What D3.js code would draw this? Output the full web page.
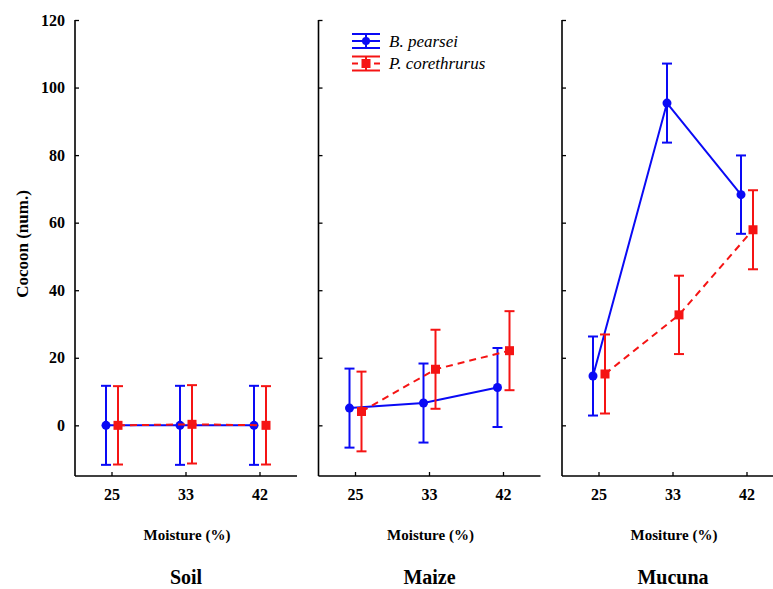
<!DOCTYPE html>
<html><head><meta charset="utf-8">
<script src="https://cdn.jsdelivr.net/npm/d3@7"></script>
<style>body{margin:0;background:#fff}svg{display:block}
svg text{font-family:"Liberation Serif","Times New Roman",Times,serif !important;}</style>
</head><body>
<svg id="c" width="773" height="589"></svg>
<script>
const panels = ["Soil", "Maize", "Mucuna"];
const xLabels = ["Moisture (%)", "Moisture (%)", "Mositure (%)"];
const moisture = ["25", "33", "42"];
const yTicks = [0, 20, 40, 60, 80, 100, 120];
const seriesNames = ["B. pearsei", "P. corethrurus"];
const pearseiMean = [[0, 0, 0], [5.1, 6.6, 11.2], [14.6, 95.4, 68.3]];
const pearseiErr = [[11.7, 11.7, 11.7], [11.7, 11.7, 11.7], [11.7, 11.7, 11.6]];
const corethMean = [[0, 0.3, 0], [4.1, 16.6, 22.1], [15.2, 32.7, 57.9]];
const corethErr = [[11.6, 11.6, 11.6], [11.8, 11.7, 11.7], [11.7, 11.6, 11.7]];

const blue = "#0a0af5", red = "#f51414";
const svg = d3.select("#c");
const y = d3.scaleLinear().domain([-15, 120]).range([476, 20]);
const pw = 222;

svg.append("text").attr("transform", "translate(22,244) rotate(-90)")
  .attr("text-anchor", "middle").attr("dominant-baseline", "central")
  .attr("font-weight", "bold").attr("font-size", 17)
  .text("Cocoon (num.)");

const series = [
  {mean: pearseiMean, err: pearseiErr, color: blue, off: -6, dash: null, shape: "circle"},
  {mean: corethMean, err: corethErr, color: red, off: 6, dash: "7,5", shape: "square"}
];

panels.forEach((name, pi) => {
  const left = 75 + pi * 243.5;
  const x = d3.scaleBand().domain(moisture).range([left, left + pw]).padding(0);
  const cx = d => x(d) + x.bandwidth() / 2;
  const g = svg.append("g");
  const ya = g.append("g").attr("transform", "translate(" + left + ",0)")
    .call(d3.axisRight(y).tickValues(yTicks).tickSize(4).tickFormat(pi === 0 ? d3.format("d") : ""));
  ya.select(".domain").attr("d", "M0," + y(120) + "V" + y(-15)).attr("stroke-width", 1.6);
  ya.selectAll(".tick line").attr("stroke-width", 1.3);
  if (pi === 0) {
    ya.selectAll(".tick text").attr("x", -10).attr("text-anchor", "end")
      .attr("font-weight", "bold").attr("font-size", 16).attr("fill", "#000");
  }
  const xa = g.append("g").attr("transform", "translate(0," + y(-15) + ")")
    .call(d3.axisTop(x).tickSize(4).tickFormat(""));
  xa.select(".domain").attr("d", "M" + left + ",0H" + (left + pw)).attr("stroke-width", 1.6);
  xa.selectAll(".tick line").attr("stroke-width", 1.3);
  g.selectAll(".xl").data(moisture).enter().append("text")
    .attr("x", d => cx(d)).attr("y", 500).attr("text-anchor", "middle")
    .attr("font-weight", "bold").attr("font-size", 16).text(d => d);
  g.append("text").attr("x", left + 112).attr("y", 540).attr("text-anchor", "middle")
    .attr("font-weight", "bold").attr("font-size", 15).text(xLabels[pi]);
  g.append("text").attr("x", left + 111).attr("y", 584).attr("text-anchor", "middle")
    .attr("font-weight", "bold").attr("font-size", 20).text(name);

  series.forEach(s => {
    const pts = moisture.map((m, i) => ({x: cx(m) + s.off, v: s.mean[pi][i], e: s.err[pi][i]}));
    const line = d3.line().x(d => d.x).y(d => y(d.v));
    g.append("path").datum(pts).attr("d", line).attr("fill", "none").attr("stroke", s.color)
      .attr("stroke-width", 2).attr("stroke-dasharray", s.dash);
    pts.forEach(p => {
      g.append("line").attr("x1", p.x).attr("x2", p.x).attr("y1", y(p.v - p.e)).attr("y2", y(p.v + p.e))
        .attr("stroke", s.color).attr("stroke-width", 2);
      [p.v - p.e, p.v + p.e].forEach(v => g.append("line").attr("x1", p.x - 5).attr("x2", p.x + 5)
        .attr("y1", y(v)).attr("y2", y(v)).attr("stroke", s.color).attr("stroke-width", 2));
      if (s.shape === "circle") g.append("circle").attr("cx", p.x).attr("cy", y(p.v)).attr("r", 4.5).attr("fill", s.color);
      else g.append("rect").attr("x", p.x - 4.5).attr("y", y(p.v) - 4.5).attr("width", 9).attr("height", 9).attr("fill", s.color);
    });
  });
});

const lg = svg.append("g");
seriesNames.forEach((n, i) => {
  const s = series[i];
  const cy = 41 + i * 22.5;
  const x0 = 352, x1 = 380, xm = 366;
  [cy - 7, cy + 7].forEach(yy => lg.append("line").attr("x1", x0).attr("x2", x1).attr("y1", yy).attr("y2", yy)
    .attr("stroke", s.color).attr("stroke-width", 2));
  lg.append("line").attr("x1", xm).attr("x2", xm).attr("y1", cy - 7).attr("y2", cy + 7).attr("stroke", s.color).attr("stroke-width", 2);
  if (i === 0) {
    lg.append("line").attr("x1", x0).attr("x2", x1).attr("y1", cy).attr("y2", cy).attr("stroke", s.color).attr("stroke-width", 2);
    lg.append("circle").attr("cx", xm).attr("cy", cy).attr("r", 4).attr("fill", s.color);
  } else {
    lg.append("line").attr("x1", x0).attr("x2", x0 + 6).attr("y1", cy).attr("y2", cy).attr("stroke", s.color).attr("stroke-width", 2);
    lg.append("line").attr("x1", x1 - 6).attr("x2", x1).attr("y1", cy).attr("y2", cy).attr("stroke", s.color).attr("stroke-width", 2);
    lg.append("rect").attr("x", xm - 4.5).attr("y", cy - 4.5).attr("width", 9).attr("height", 9).attr("fill", s.color);
  }
  lg.append("text").attr("x", 389).attr("y", cy).attr("dominant-baseline", "central")
    .attr("font-style", "italic").attr("font-size", 17).text(n);
});
</script>
</body></html>
